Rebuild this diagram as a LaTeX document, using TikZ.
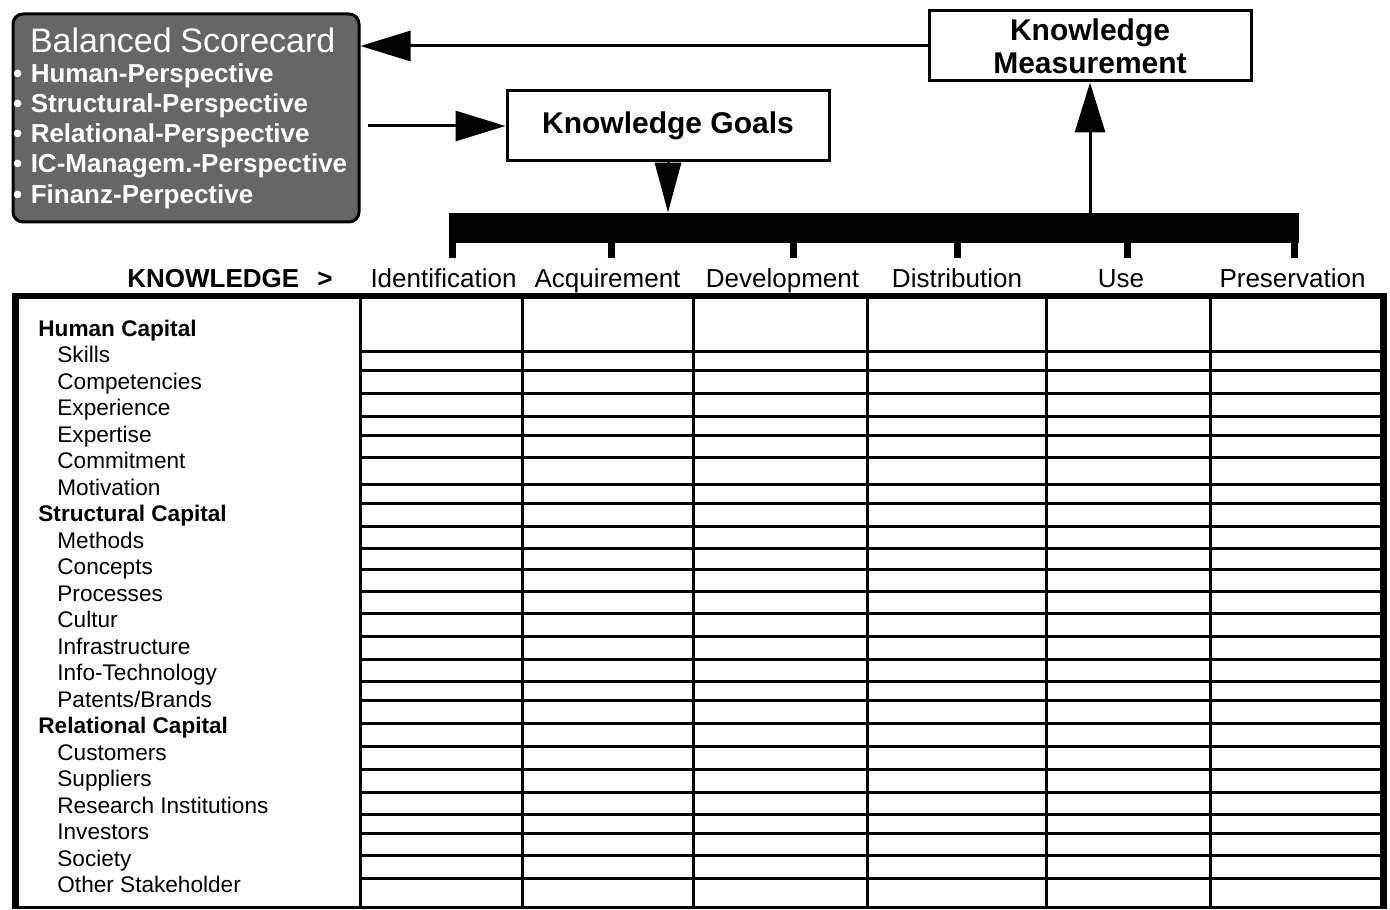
\documentclass[tikz,border=0pt]{standalone}
\usepackage{fontspec}
\setmainfont{Liberation Sans}
\usepackage{tikz}
\usetikzlibrary{arrows.meta,positioning,calc}
\usepackage{xcolor}
\definecolor{bscgray}{HTML}{666666}
\newcommand{\persp}[1]{\textbf{\textbullet\ #1}}
\newcommand{\rowpitch}{26.52}

\begin{document}
\begin{tikzpicture}[
    x=0.5pt, y=-0.5pt,
    goalbox/.style={draw, line width=1.5pt, font=\fontsize{15}{16.5}\selectfont\bfseries, minimum width=161pt, minimum height=35pt, align=center, inner sep=0pt},
    bscbox/.style={draw, rounded corners=5pt, line width=1.5pt, fill=bscgray, text=white, font=\fontsize{13}{15.1}\selectfont, minimum width=173pt, minimum height=104pt, text width=173pt, align=left, inner sep=0pt},
    colhead/.style={anchor=base, font=\fontsize{13}{15}\selectfont, inner sep=0pt},
    rowhead/.style={anchor=base west, font=\fontsize{11.3}{13}\selectfont\bfseries, inner sep=0pt},
    rowitem/.style={anchor=base west, font=\fontsize{11.3}{13}\selectfont, inner sep=0pt},
    gridline/.style={line width=1.5pt},
    flow/.style={line width=1.5pt, -{Triangle[length=25pt, width=15pt]}}
  ]
  \useasboundingbox (0,0) rectangle (1390,909);

  % Scorecard and boxes
  \node[bscbox] (bsc) at (186,118) {{\fontsize{17}{15.1}\selectfont\hspace*{8.5pt}Balanced Scorecard}\\
    \persp{Human-Perspective}\\
    \persp{Structural-Perspective}\\
    \persp{Relational-Perspective}\\
    \persp{IC-Managem.-Perspective}\\
    \persp{Finanz-Perpective}};
  \node[goalbox] (goals) at (668,126) {Knowledge Goals};
  \node[goalbox] (measure) at (1090,46) {Knowledge\\Measurement};

  % Process bar
  \node[fill=black, minimum width=425pt, minimum height=15pt, inner sep=0pt] (bar) at (873.5,228) {};
  \foreach \x in {452,611,793,957,1127,1294}
    \draw[line width=3.5pt] (\x,243) -- (\x,258);

  % Arrows
  \draw[flow] (measure.west) -- (measure.west -| bsc.east);
  \draw[flow, shorten <=3.5pt] (goals.west -| bsc.east) -- (goals.west);
  \draw[line width=1.5pt, -{Triangle[length=25pt, width=13pt]}] (goals.south) -- (goals.south |- bar.north);
  \draw[flow] (measure.south |- bar.north) -- (measure.south);

  % Column heads
  \node[colhead, anchor=base west, font=\fontsize{13}{15}\selectfont\bfseries] (know) at (127,287) {KNOWLEDGE\hspace{9pt}>};
  \foreach \x/\txt [count=\i] in {443.5/Identification, 607.5/Acquirement, 782.5/Development, 957/Distribution, 1121/Use, 1292.5/Preservation}
    \node[colhead] (col\i) at (\x,287) {\txt};

  % Table frame
  \draw[line width=3pt] (12,296) -- (1387,296);
  \draw[line width=3.5pt] (15.5,296) -- (15.5,909);
  \draw[line width=3.5pt] (1383,296) -- (1383,909);
  \draw[gridline] (12,907.5) -- (1387,907.5);
  \foreach \x in {360,522,693,867,1046,1210}
    \draw[gridline] (\x,296) -- (\x,907);
  \foreach \y in {351,370,393,416,435,457,484,503,526,548,569,591,613,636,659,681,700,723,746,769,792,814,833,855,878}
    \draw[gridline] (360,\y) -- (1381,\y);

  % Row labels
  \foreach \n/\txt in {0/Human Capital, 7/Structural Capital, 15/Relational Capital}
    \node[rowhead] (row\n) at (38,{336+\rowpitch*\n}) {\txt};
  \foreach \n/\txt in {1/Skills, 2/Competencies, 3/Experience, 4/Expertise, 5/Commitment, 6/Motivation,
      8/Methods, 9/Concepts, 10/Processes, 11/Cultur, 12/Infrastructure, 13/Info-Technology, 14/{Patents/Brands},
      16/Customers, 17/Suppliers, 18/Research Institutions, 19/Investors, 20/Society, 21/Other Stakeholder}
    \node[rowitem] (row\n) at (57,{336+\rowpitch*\n}) {\txt};
\end{tikzpicture}
\end{document}
